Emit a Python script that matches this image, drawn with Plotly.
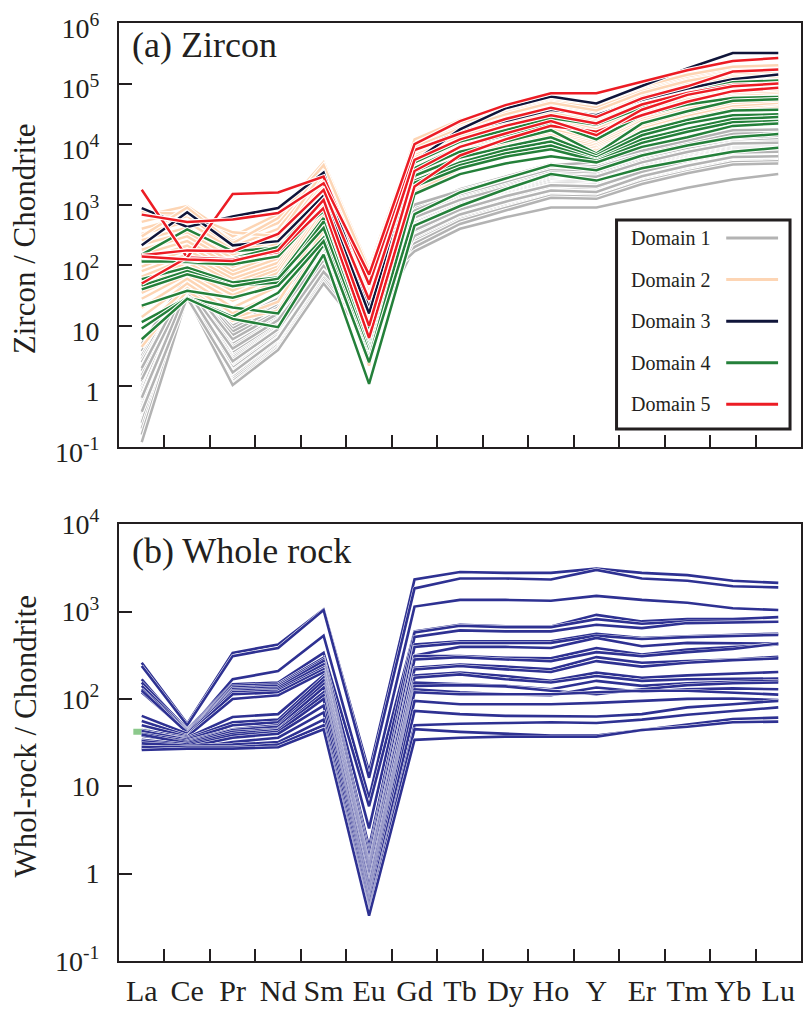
import plotly.graph_objects as go

# ---------------- data ----------------
elements = ["La", "Ce", "Pr", "Nd", "Sm", "Eu", "Gd", "Tb", "Dy", "Ho", "Y", "Er", "Tm", "Yb", "Lu"]

# Domain 1 (grey) zircon / chondrite
domain1 = [
    [4.5, 65, 10, 25, 200, 110, 900, 1800, 2900, 4700, 4300, 7500, 11000, 16000, 17000],
    [3.8, 60, 9, 22, 180, 90, 800, 1600, 2600, 4200, 4000, 7000, 10500, 15000, 15500],
    [3.2, 55, 8, 20, 170, 70, 700, 1400, 2300, 3700, 3500, 6000, 9000, 12500, 13500],
    [2.8, 62, 6.5, 18, 160, 60, 650, 1300, 2100, 3400, 3200, 5500, 8200, 11000, 12000],
    [2.5, 50, 7, 17, 150, 50, 600, 1250, 2000, 3200, 3000, 5200, 7600, 10500, 11000],
    [2.1, 58, 5.5, 15, 140, 45, 560, 1150, 1850, 3000, 2800, 4800, 7200, 9800, 10000],
    [1.8, 45, 5, 14, 135, 40, 520, 1100, 1750, 2800, 2700, 4600, 6800, 9300, 9500],
    [1.5, 52, 4.5, 13, 125, 35, 500, 1050, 1700, 2700, 2600, 4400, 6500, 9000, 9200],
    [1.2, 40, 4, 12, 120, 30, 470, 1000, 1600, 2550, 2450, 4200, 6200, 8600, 8800],
    [1.0, 48, 3.6, 11, 115, 28, 450, 950, 1550, 2450, 2350, 4000, 6000, 8300, 8500],
    [0.9, 38, 3.2, 10, 110, 25, 430, 920, 1500, 2350, 2250, 3850, 5800, 8000, 8200],
    [0.8, 55, 3, 9.5, 105, 22, 410, 880, 1450, 2250, 2150, 3700, 5600, 7700, 7900],
    [0.7, 42, 2.8, 9, 100, 20, 390, 850, 1400, 2150, 2050, 3550, 5400, 7400, 7600],
    [0.6, 35, 2.5, 8.5, 95, 18, 370, 820, 1350, 2050, 1950, 3400, 5200, 7100, 7300],
    [0.55, 50, 2.3, 8, 92, 16, 350, 790, 1300, 1950, 1850, 3300, 5000, 6900, 7000],
    [0.5, 32, 2.1, 7.5, 88, 15, 340, 760, 1250, 1900, 1800, 3200, 4800, 6700, 6800],
    [0.45, 45, 2, 7, 85, 14, 330, 740, 1200, 1850, 1750, 3100, 4650, 6500, 6600],
    [0.4, 30, 1.8, 6.5, 80, 13, 310, 700, 1150, 1750, 1650, 3000, 4500, 6200, 6400],
    [0.35, 40, 1.6, 6, 75, 12, 300, 680, 1100, 1700, 1600, 2900, 4350, 6000, 6200],
    [0.3, 36, 1.5, 5.5, 70, 11, 290, 650, 1050, 1650, 1550, 2800, 4200, 5800, 6000],
    [0.28, 33, 1.4, 5, 68, 10, 280, 630, 1000, 1600, 1500, 2700, 4000, 5600, 5800],
    [0.25, 47, 1.3, 4.8, 65, 9, 270, 600, 960, 1500, 1450, 2600, 3850, 5400, 5600],
    [0.2, 31, 1.2, 4.5, 60, 8, 250, 570, 920, 1450, 1400, 2500, 3700, 5200, 5400],
    [0.16, 34, 1.1, 4.3, 55, 7, 230, 540, 880, 1400, 1350, 2400, 3550, 5000, 5200],
    [0.12, 30, 1.05, 4, 50, 6, 200, 480, 800, 1300, 1250, 2200, 3300, 4600, 4800],
    [5.0, 68, 12, 28, 220, 100, 1000, 1700, 2700, 4500, 5000, 7800, 11500, 17000, 17500],
    [1.3, 44, 4.2, 12.5, 118, 32, 170, 400, 620, 900, 900, 1300, 1900, 2600, 3200],
    [2.0, 53, 6, 16, 145, 55, 620, 1200, 1900, 3050, 2900, 5000, 7400, 10200, 10500],
    [0.65, 39, 2.6, 8.8, 98, 19, 380, 830, 1380, 2100, 2000, 3500, 5300, 7300, 7500],
    [0.38, 29, 1.7, 6.2, 78, 12, 305, 690, 1120, 1720, 1620, 2950, 4400, 6100, 6300],
]

# Domain 2 (peach)
domain2 = [
    [650, 950, 300, 700, 5000, 90, 11000, 22000, 38000, 55000, 45000, 85000, 130000, 180000, 190000],
    [520, 800, 250, 500, 4000, 75, 9500, 19000, 33000, 50000, 40000, 75000, 115000, 160000, 170000],
    [400, 650, 200, 400, 3200, 60, 8500, 17000, 29000, 45000, 34000, 65000, 100000, 140000, 150000],
    [330, 520, 180, 330, 2800, 50, 8000, 16000, 27000, 40000, 30000, 60000, 90000, 125000, 130000],
    [260, 420, 150, 270, 2500, 45, 7000, 14000, 24000, 36000, 26000, 52000, 80000, 110000, 115000],
    [220, 350, 130, 230, 2200, 40, 6500, 13000, 22000, 33000, 23000, 47000, 72000, 98000, 100000],
    [180, 300, 110, 200, 2000, 35, 6000, 12000, 20000, 30000, 21000, 43000, 66000, 90000, 92000],
    [150, 250, 95, 170, 1800, 30, 5500, 11000, 18500, 28000, 19000, 40000, 62000, 85000, 86000],
    [120, 210, 80, 150, 1600, 27, 5000, 10500, 17500, 26000, 17500, 37000, 58000, 80000, 82000],
    [95, 180, 70, 130, 1400, 24, 4600, 9800, 16000, 24000, 16000, 34000, 54000, 75000, 78000],
    [80, 150, 60, 110, 1250, 20, 4200, 9000, 15000, 22000, 15000, 32000, 50000, 70000, 74000],
    [65, 130, 52, 95, 1100, 18, 3800, 8300, 14000, 20000, 13500, 30000, 47000, 66000, 70000],
    [55, 110, 45, 85, 1000, 15, 3500, 7600, 13000, 19000, 12500, 28000, 44000, 62000, 66000],
    [45, 95, 38, 75, 900, 12, 3200, 7000, 12000, 17500, 11500, 26000, 41000, 58000, 62000],
    [35, 80, 32, 65, 800, 10, 2900, 6400, 11000, 16000, 10500, 24000, 38000, 54000, 58000],
    [28, 70, 26, 55, 700, 8, 2600, 5800, 10000, 15000, 9800, 22000, 35000, 50000, 54000],
    [20, 60, 20, 45, 600, 6, 2300, 5200, 9000, 14000, 9200, 20000, 32000, 46000, 50000],
    [14, 50, 16, 35, 480, 4.5, 2000, 4700, 8200, 12500, 8700, 18000, 29000, 42000, 46000],
    [9, 42, 13, 25, 380, 3, 1800, 4300, 7500, 11000, 8200, 16500, 26000, 38000, 42000],
    [4.5, 38, 12, 18, 250, 2.2, 1600, 3900, 6800, 10000, 7800, 15500, 24000, 35000, 40000],
    [750, 700, 350, 300, 3600, 55, 12000, 25000, 40000, 60000, 48000, 90000, 140000, 190000, 200000],
    [300, 900, 230, 600, 4500, 80, 9000, 18000, 31000, 48000, 36000, 70000, 110000, 150000, 160000],
]

# Domain 3 (navy)
domain3 = [
    [880, 430, 640, 880, 3400, 19, 7800, 16000, 24000, 37000, 30000, 54000, 83000, 118000, 141000],
    [213, 750, 213, 250, 1400, 16, 5200, 17500, 39000, 61000, 47000, 92000, 177000, 320000, 320000],
]

# Domain 4 (green)
domain4 = [
    [150, 390, 170, 195, 1200, 8, 5000, 11000, 17000, 27000, 21000, 40000, 70000, 105000, 112000],
    [118, 110, 104, 140, 880, 6.5, 4000, 9000, 14000, 22000, 12000, 30000, 45000, 58000, 60000],
    [115, 115, 130, 200, 780, 5.5, 3500, 7500, 11000, 17000, 7000, 22000, 35000, 52000, 55000],
    [59, 92, 52, 63, 600, 4.5, 3000, 6000, 9000, 13000, 6500, 16000, 25000, 36000, 37000],
    [46, 80, 46, 52, 530, 4, 2500, 5000, 8000, 11000, 6000, 14000, 22000, 30000, 31000],
    [40, 71, 45, 60, 415, 3.5, 2300, 4500, 7000, 9500, 5500, 12000, 18000, 26000, 28000],
    [21.5, 38, 29, 46, 285, 3, 2000, 4000, 6200, 8200, 5300, 10500, 16000, 23000, 24000],
    [11.5, 29, 20, 16, 220, 2.8, 1500, 3200, 4800, 6300, 5000, 9000, 13000, 20000, 22000],
    [9, 29, 14, 35, 250, 2.5, 700, 1600, 2700, 4500, 3700, 6500, 9500, 13000, 14700],
    [6, 28, 13, 9.5, 150, 1.1, 450, 950, 1800, 3200, 2500, 4000, 5500, 7500, 8700],
]

# Domain 5 (red)
domain5 = [
    [1760, 134, 125, 165, 880, 6.3, 2000, 6500, 12000, 20000, 16000, 30000, 50000, 75000, 85000],
    [50, 134, 1500, 1590, 2900, 48, 8000, 15000, 26000, 40000, 28000, 57000, 90000, 158000, 170000],
    [685, 520, 570, 730, 2260, 70, 10000, 24000, 44000, 69000, 69000, 107000, 166000, 235000, 265000],
    [146, 176, 170, 330, 1760, 27, 5500, 12000, 20000, 30000, 22000, 45000, 70000, 95000, 100000],
    [140, 125, 118, 176, 1200, 10, 3600, 9000, 15000, 24000, 14000, 37000, 65000, 90000, 100000],
]

# Whole rock / chondrite
whole_rock = [
    [259, 52, 337, 419, 1060, 14.6, 2330, 2840, 2770, 2770, 3100, 2770, 2610, 2250, 2130],
    [238, 50, 309, 383, 1040, 12.5, 1840, 2390, 2390, 2330, 3000, 2390, 2250, 1950, 1890],
    [168, 42, 168, 208, 530, 7.3, 1140, 1360, 1360, 1330, 1510, 1360, 1260, 1090, 1040],
    [154, 45, 147, 154, 337, 5.9, 593, 706, 676, 676, 917, 771, 819, 819, 863],
    [141, 44, 141, 147, 296, 3.3, 578, 688, 664, 664, 819, 725, 771, 771, 764],
    [129, 43, 135, 141, 283, 2.0, 512, 609, 593, 593, 706, 647, 738, 750, 764],
    [119, 42, 129, 135, 271, 1.7, 419, 457, 457, 457, 558, 499, 520, 544, 558],
    [125, 41, 124, 129, 248, 1.5, 394, 438, 438, 438, 530, 486, 510, 530, 540],
    [64, 40, 119, 124, 228, 1.3, 314, 394, 394, 383, 499, 401, 438, 438, 430],
    [56, 38, 113, 119, 218, 1.2, 309, 309, 296, 291, 383, 323, 367, 394, 419],
    [50, 37, 100, 110, 203, 1.1, 283, 301, 283, 271, 343, 309, 343, 374, 430],
    [44, 36, 62, 67, 186, 1.0, 228, 248, 234, 218, 301, 259, 271, 283, 303],
    [42, 35, 54, 58, 175, 0.9, 218, 238, 218, 203, 271, 234, 259, 278, 291],
    [43, 34, 50, 54, 161, 0.8, 186, 200, 183, 161, 200, 175, 186, 196, 203],
    [40, 33, 45, 50, 147, 0.75, 175, 191, 168, 154, 183, 161, 168, 168, 171],
    [38, 32, 44, 48, 135, 0.7, 154, 147, 141, 129, 161, 141, 151, 157, 161],
    [39, 31, 42, 45, 119, 0.62, 141, 144, 139, 124, 113, 129, 144, 151, 154],
    [34, 30, 40, 44, 110, 0.56, 129, 119, 113, 110, 135, 121, 129, 132, 129],
    [33, 29, 38, 42, 100, 0.5, 119, 113, 113, 113, 119, 124, 124, 119, 112],
    [29, 28, 36, 40, 84, 0.46, 95, 87, 87, 87, 90, 95, 100, 101, 97],
    [27, 27, 32, 36, 70, 0.42, 73, 67, 64, 63, 63, 67, 80, 87, 95],
    [31, 29, 30, 32, 58, 0.38, 50, 52, 53, 54, 53, 58, 66, 72, 80],
    [28, 28, 28, 30, 50, 0.35, 45, 42, 40, 38, 38, 44, 50, 59, 61],
    [26, 27, 27, 28, 45, 0.33, 34, 36, 37, 37, 37, 44, 48, 54, 55],
]

green_dot_La = [42]

zircon_tickvals = [0.1, 1, 10, 100, 1e3, 1e4, 1e5, 1e6]
zircon_ticktext = ["10<sup>-1</sup>", "1", "10", "10<sup>2</sup>", "10<sup>3</sup>",
                   "10<sup>4</sup>", "10<sup>5</sup>", "10<sup>6</sup>"]
wr_tickvals = [0.1, 1, 10, 100, 1e3, 1e4]
wr_ticktext = ["10<sup>-1</sup>", "1", "10", "10<sup>2</sup>", "10<sup>3</sup>", "10<sup>4</sup>"]

legend_labels = ["Domain 1", "Domain 2", "Domain 3", "Domain 4", "Domain 5"]

# ---------------- styling ----------------
FONT = "Liberation Serif, Times New Roman, serif"
INK = "#231f20"
colors = ["#b3b3b3", "#fdd5b4", "#10153a", "#24803a", "#ec1c24"]
WR_COLOR = "#2e3192"

x_pos = list(range(len(elements)))
half_ticks = [i + 0.5 for i in range(len(elements) - 1)]

fig = go.Figure()


def add_lines(rows, color, xa, ya, width=2.5, halo=4.6):
    for row in rows:
        fig.add_trace(go.Scatter(x=x_pos, y=row, mode="lines", xaxis=xa, yaxis=ya,
                                 line=dict(color="white", width=halo), hoverinfo="skip"))
        fig.add_trace(go.Scatter(x=x_pos, y=row, mode="lines", xaxis=xa, yaxis=ya,
                                 line=dict(color=color, width=width)))


for rows, c in zip([domain1, domain2, domain3, domain4, domain5], colors):
    add_lines(rows, c, "x", "y")

fig.add_trace(go.Scatter(x=[x_pos[0]], y=green_dot_La, mode="markers", xaxis="x2", yaxis="y2",
                         marker=dict(symbol="line-ew", size=12,
                                     line=dict(color="#8cc98c", width=6))))
add_lines(whole_rock, WR_COLOR, "x2", "y2", width=2.6, halo=3.5)

W, H = 807, 1030
ML, MR, MT, MB = 119, 4, 14, 69
PW, PH = W - ML - MR, H - MT - MB


def px(xp):
    return (xp - ML) / PW


def py(yp):
    return (H - MB - yp) / PH


common_x = dict(range=[-0.5, len(elements) - 0.5], showline=True, mirror=True, linecolor=INK,
                linewidth=2, showgrid=False, zeroline=False, tickmode="array", tickvals=x_pos,
                ticktext=elements, ticks="",
                minor=dict(tickmode="array", tickvals=half_ticks, ticks="inside", ticklen=12,
                           tickwidth=2, tickcolor=INK, showgrid=False))
common_y = dict(type="log", showline=True, mirror=True, linecolor=INK, linewidth=2,
                showgrid=False, zeroline=False, ticks="inside", ticklen=13, tickwidth=2,
                tickcolor=INK, tickfont=dict(family=FONT, size=28, color=INK),
                ticklabelstandoff=12)

fig.update_layout(
    width=W, height=H, margin=dict(l=ML, r=MR, t=MT, b=MB),
    paper_bgcolor="white", plot_bgcolor="white", showlegend=False,
    font=dict(family=FONT, color=INK),
    xaxis=dict(common_x, domain=[0, 1], anchor="y", showticklabels=False),
    yaxis=dict(common_y, domain=[py(442), 1], anchor="x", range=[-1, 6],
               tickvals=zircon_tickvals, ticktext=zircon_ticktext, ticklabelshift=5),
    xaxis2=dict(common_x, domain=[0, 1], anchor="y2", showticklabels=True,
                tickfont=dict(family=FONT, size=30, color=INK), ticklabelstandoff=2),
    yaxis2=dict(common_y, domain=[0, py(520)], anchor="x2", range=[-1, 4],
                tickvals=wr_tickvals, ticktext=wr_ticktext),
)

ann = [
    dict(text="(a) Zircon", x=px(130), y=py(36), xanchor="left", yanchor="middle",
         font=dict(size=36)),
    dict(text="(b) Whole rock", x=px(130), y=py(547), xanchor="left", yanchor="middle",
         font=dict(size=36)),
    dict(text="Zircon / Chondrite", x=px(25), y=py(232), textangle=-90, xanchor="center",
         yanchor="middle", font=dict(size=31)),
    dict(text="Whol-rock / Chondrite", x=px(25), y=py(734), textangle=-90, xanchor="center",
         yanchor="middle", font=dict(size=31)),
]
shapes = [dict(type="rect", xref="paper", yref="paper", x0=px(618), x1=px(792), y0=py(424),
               y1=py(213), line=dict(color=INK, width=3), fillcolor="white", layer="above")]
for i, (lab, c) in enumerate(zip(legend_labels, colors)):
    yc = 231 + 42 * i
    ann.append(dict(text=lab, x=px(630), y=py(yc), xanchor="left", yanchor="middle",
                    font=dict(size=20)))
    shapes.append(dict(type="line", xref="paper", yref="paper", x0=px(728), x1=px(780),
                       y0=py(yc), y1=py(yc), line=dict(color=c, width=3), layer="above"))
for a in ann:
    a.update(xref="paper", yref="paper", showarrow=False)
fig.update_layout(annotations=ann, shapes=shapes)

fig.write_html("out.html")
